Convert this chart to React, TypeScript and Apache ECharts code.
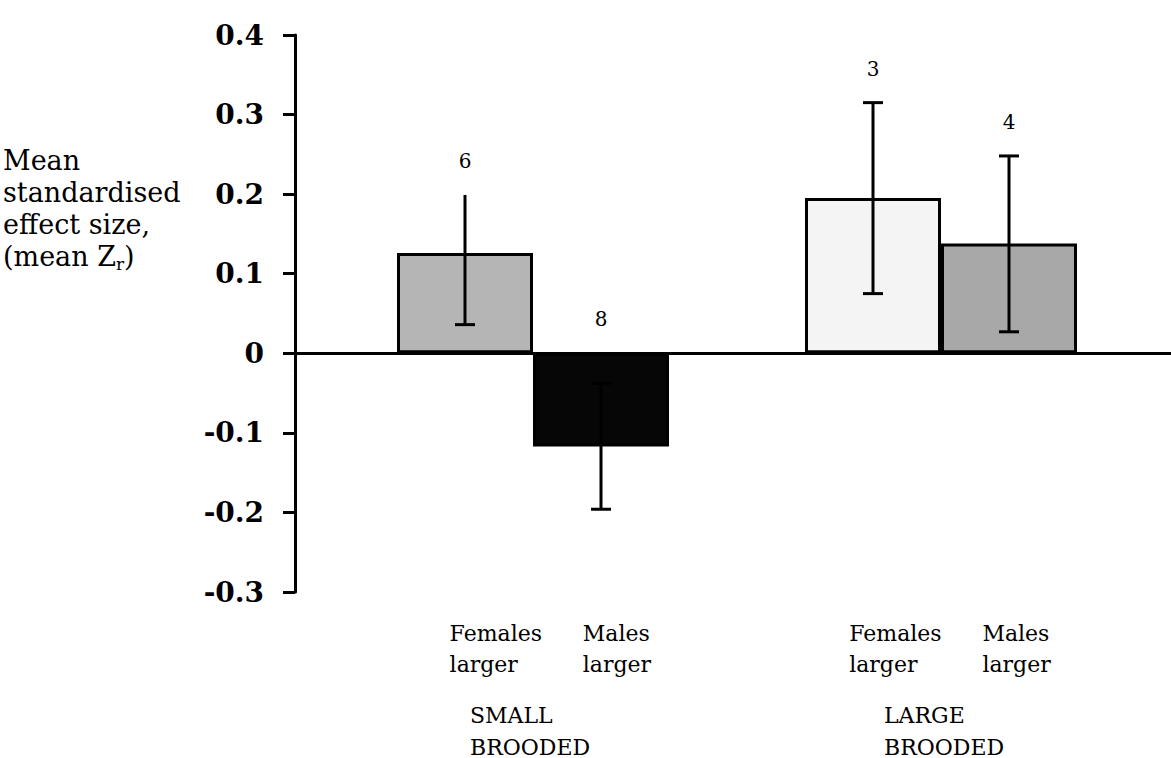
import React, { useEffect, useRef } from "react";
import * as echarts from "echarts";

// Categories along the x axis (the middle slot separates the two groups)
const categories = ["Females\nlarger", "Males\nlarger", "", "Females\nlarger", "Males\nlarger"];
const groupLabels = ["SMALL\nBROODED", "LARGE\nBROODED"];

// Mean standardised effect size (mean Zr) with its interval bounds
const meanZr: (number | null)[] = [0.126, -0.117, null, 0.195, 0.138];
const lowerZr: (number | null)[] = [0.036, -0.196, null, 0.075, 0.027];
const upperZr: (number | null)[] = [0.199, -0.038, null, 0.315, 0.248];

// Number of studies behind each bar
const sampleSizes = ["6", "8", "", "3", "4"];

// Y axis range and step
const yMin = -0.3;
const yMax = 0.4;
const yStep = 0.1;

// Bar fills and whether the upper whisker carries a cap
const barFills = ["#b5b5b5", "#060606", "#ffffff", "#f4f4f4", "#a8a8a8"];
const upperCap = [false, true, false, true, true];

const SERIF = '"DejaVu Serif", "Liberation Serif", serif';

export default function App() {
  const ref = useRef<HTMLDivElement>(null);

  useEffect(() => {
    if (!ref.current) return;
    const chart = echarts.init(ref.current, null, { renderer: "svg" });

    const barData = meanZr.map((v, i) => ({
      value: v,
      itemStyle: { color: barFills[i] },
    }));

    const errorData: (number | string)[][] = [];
    meanZr.forEach((v, i) => {
      if (v === null) return;
      errorData.push([i, v, lowerZr[i] as number, upperZr[i] as number, sampleSizes[i]]);
    });

    const top = 35;
    const height = 557;

    chart.setOption({
      animation: false,
      backgroundColor: "#ffffff",
      grid: [
        { left: 295, right: 0, top, height },
        { left: 397, width: 680, top, height },
        { left: 383, width: 666, top, height },
      ],
      xAxis: [
        {
          gridIndex: 0,
          type: "value",
          min: 0,
          max: 1,
          axisLine: { show: true, onZero: true, lineStyle: { color: "#000", width: 3 } },
          axisTick: { show: false },
          axisLabel: { show: false },
          splitLine: { show: false },
        },
        {
          gridIndex: 1,
          type: "category",
          data: categories,
          axisLine: { show: false },
          axisTick: { show: false },
          axisLabel: { show: false },
          splitLine: { show: false },
        },
        {
          gridIndex: 2,
          type: "category",
          data: categories,
          position: "bottom",
          axisLine: { show: false, onZero: false },
          axisTick: { show: false },
          axisLabel: {
            show: true,
            interval: 0,
            align: "left",
            verticalAlign: "top",
            margin: 26,
            fontFamily: SERIF,
            fontSize: 22,
            lineHeight: 31,
            color: "#000",
          },
          splitLine: { show: false },
        },
      ],
      yAxis: [
        {
          gridIndex: 0,
          type: "value",
          min: yMin,
          max: yMax,
          interval: yStep,
          axisLine: { show: true, lineStyle: { color: "#000", width: 3 } },
          axisTick: { show: true, inside: false, length: 12, lineStyle: { color: "#000", width: 3 } },
          axisLabel: {
            margin: 31,
            fontFamily: SERIF,
            fontWeight: "bold",
            fontSize: 28,
            color: "#000",
            formatter: (v: number) => (Math.abs(v) < 1e-9 ? "0" : v.toFixed(1)),
          },
          splitLine: { show: false },
        },
        {
          gridIndex: 1,
          type: "value",
          min: yMin,
          max: yMax,
          show: false,
          splitLine: { show: false },
        },
        {
          gridIndex: 2,
          type: "value",
          min: yMin,
          max: yMax,
          show: false,
          splitLine: { show: false },
        },
      ],
      series: [
        {
          type: "bar",
          xAxisIndex: 1,
          yAxisIndex: 1,
          barCategoryGap: "0%",
          data: barData,
          itemStyle: { borderColor: "#000", borderWidth: 3 },
          z: 2,
        },
        {
          type: "custom",
          xAxisIndex: 1,
          yAxisIndex: 1,
          z: 5,
          data: errorData,
          renderItem: (params: any, api: any) => {
            const x = api.value(0);
            const lo = api.coord([x, api.value(2)]);
            const hi = api.coord([x, api.value(3)]);
            const labelAnchor = api.coord([x, Math.max(api.value(3), 0)]);
            const cap = 10;
            const stroke = { stroke: "#000", lineWidth: 3 };
            const children: any[] = [
              { type: "line", shape: { x1: lo[0], y1: lo[1], x2: hi[0], y2: hi[1] }, style: stroke },
              { type: "line", shape: { x1: lo[0] - cap, y1: lo[1], x2: lo[0] + cap, y2: lo[1] }, style: stroke },
            ];
            if (upperCap[x]) {
              children.push({
                type: "line",
                shape: { x1: hi[0] - cap, y1: hi[1], x2: hi[0] + cap, y2: hi[1] },
                style: stroke,
              });
            }
            children.push({
              type: "text",
              x: labelAnchor[0],
              y: labelAnchor[1] - 34,
              style: {
                text: String(api.value(4)),
                fontFamily: SERIF,
                fontSize: 20,
                fill: "#000",
                align: "center",
                verticalAlign: "middle",
              },
            });
            return { type: "group", children };
          },
        },
      ],
      graphic: [
        {
          type: "text",
          left: 3,
          top: 147,
          style: {
            text: "{a|Mean}\n{a|standardised}\n{a|effect size,}\n{a|(mean Z}{s|r}{a|)}",
            rich: {
              a: { fontFamily: SERIF, fontSize: 27, lineHeight: 32, fill: "#000" },
              s: { fontFamily: SERIF, fontSize: 17, lineHeight: 20, verticalAlign: "bottom", fill: "#000" },
            },
            fill: "#000",
          },
        },
        {
          type: "text",
          left: 470,
          top: 699,
          style: {
            text: groupLabels[0],
            fontFamily: SERIF,
            fontSize: 22,
            lineHeight: 32,
            fill: "#000",
          },
        },
        {
          type: "text",
          left: 884,
          top: 699,
          style: {
            text: groupLabels[1],
            fontFamily: SERIF,
            fontSize: 22,
            lineHeight: 32,
            fill: "#000",
          },
        },
      ],
    });

    return () => chart.dispose();
  }, []);

  return (
    <div
      ref={ref}
      style={{ position: "absolute", left: 0, top: 0, width: 1171, height: 758 }}
    />
  );
}
